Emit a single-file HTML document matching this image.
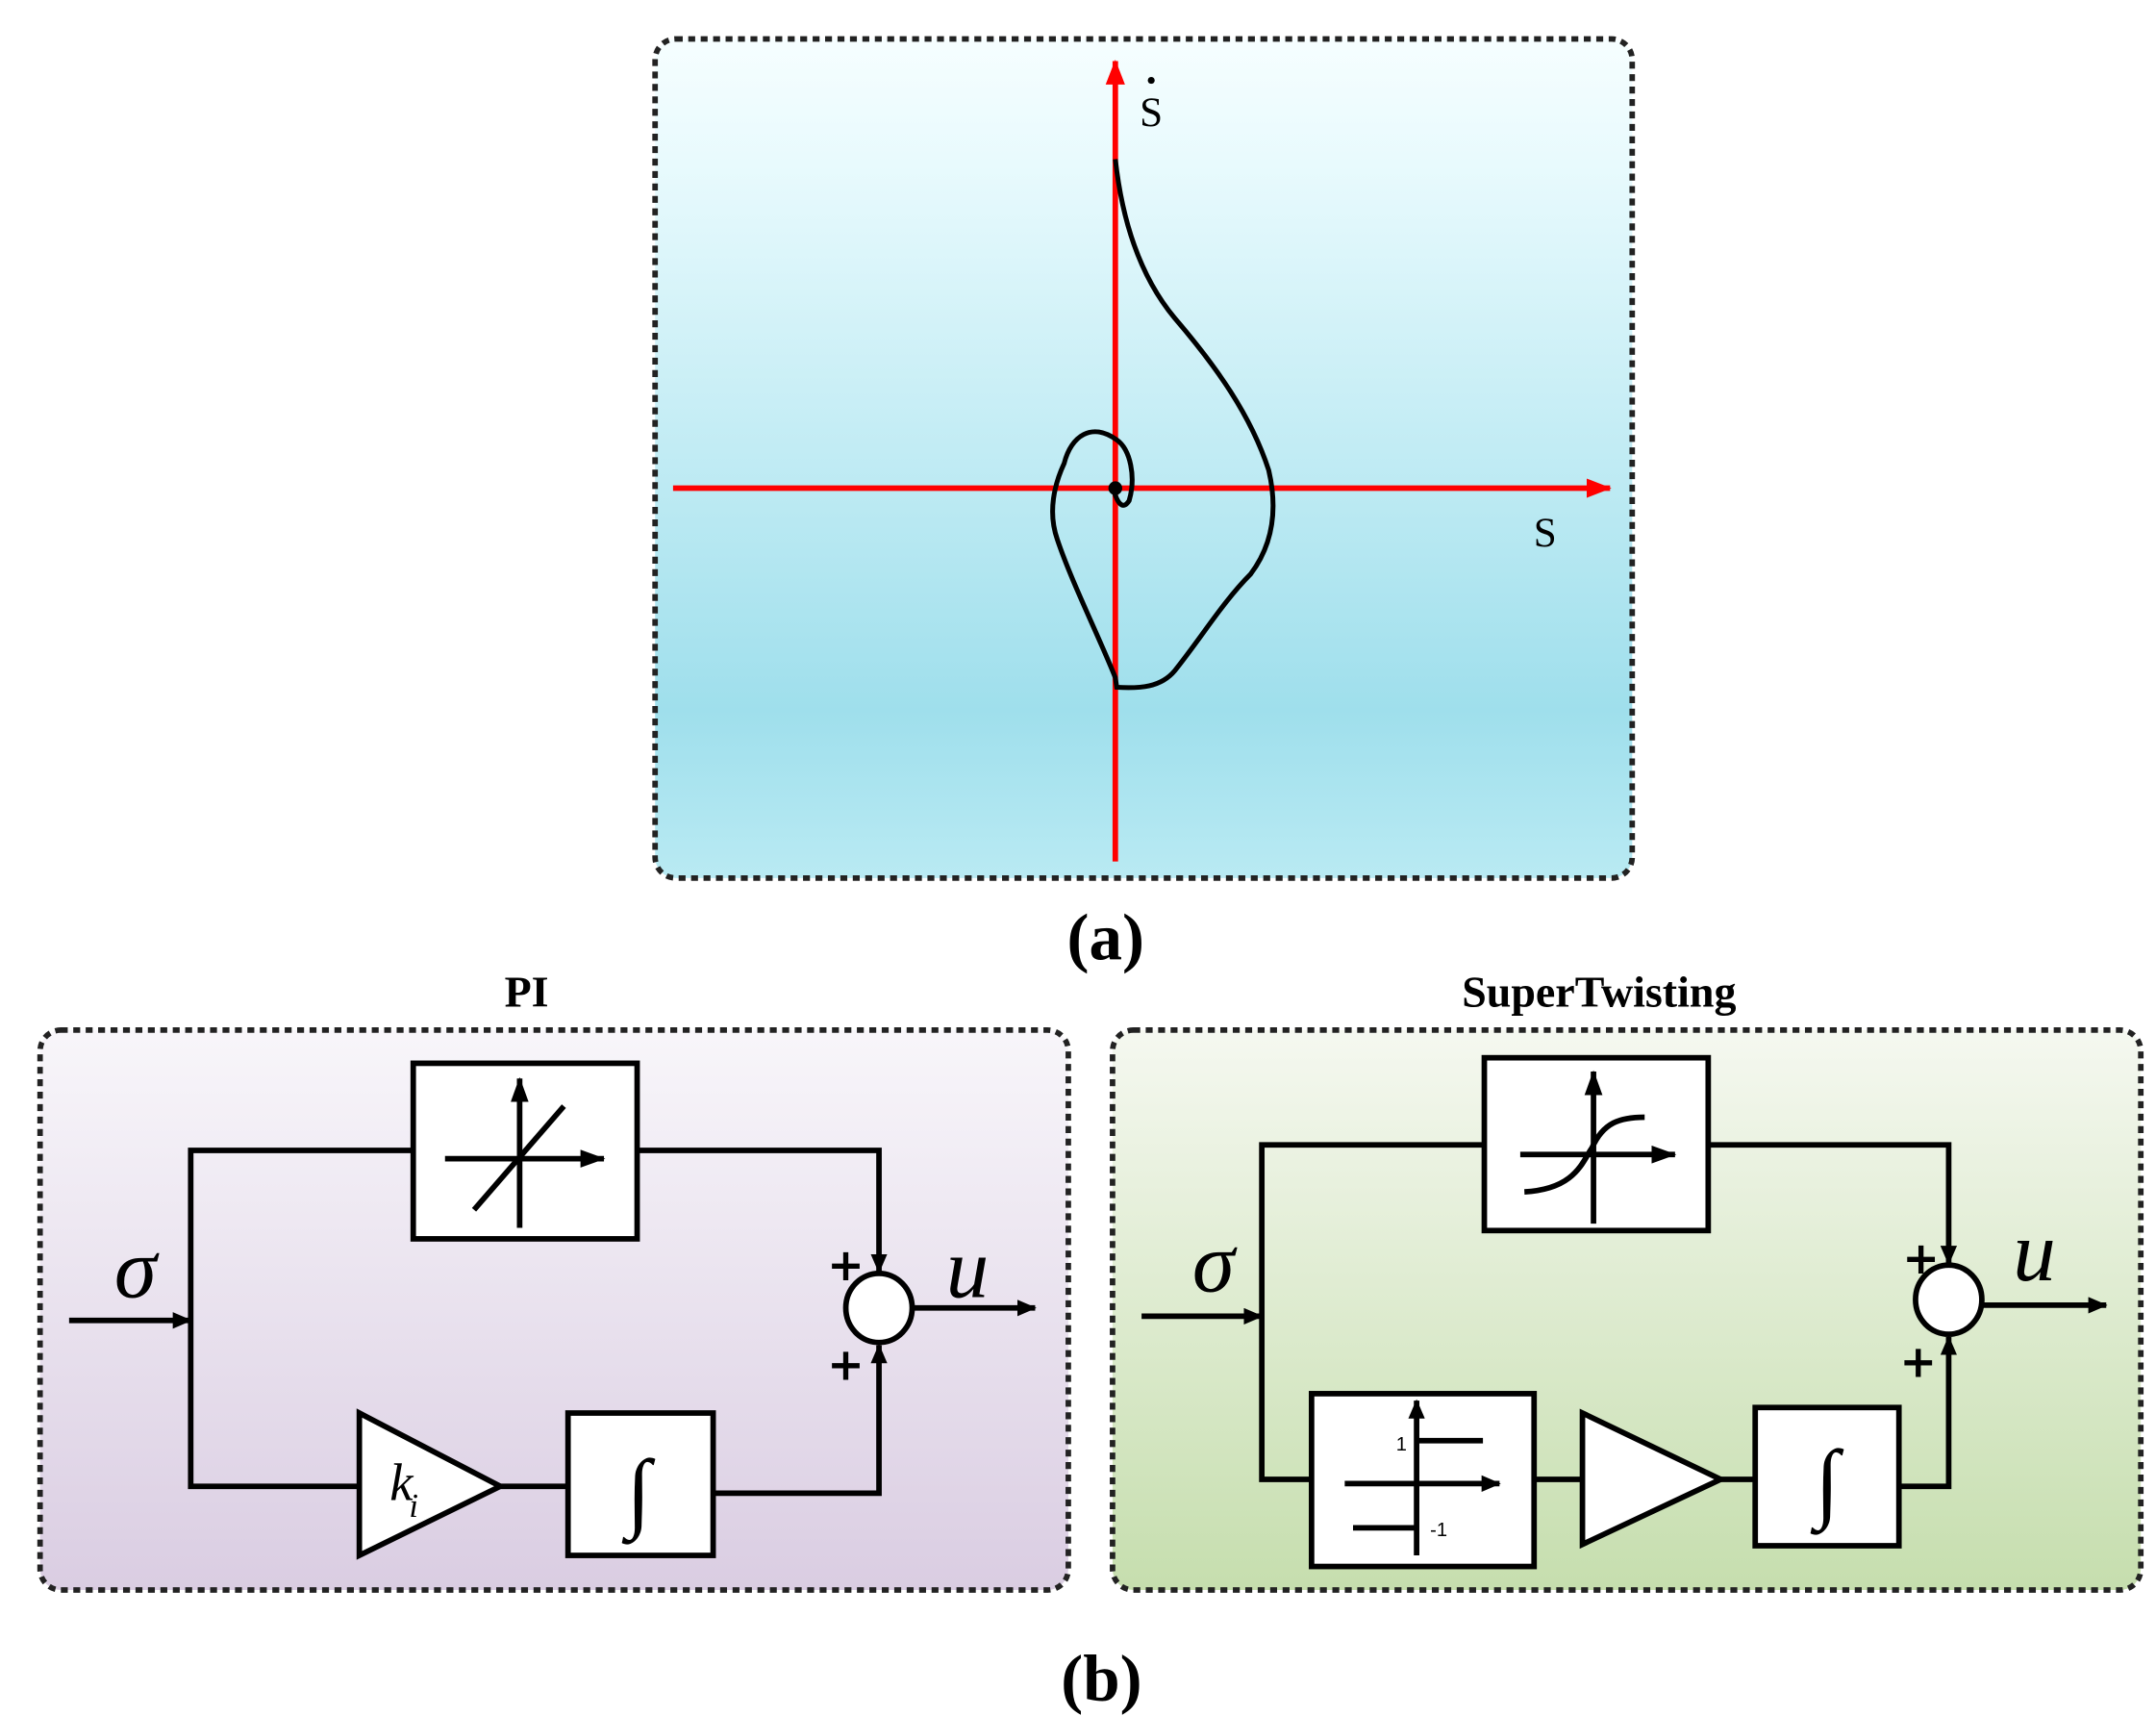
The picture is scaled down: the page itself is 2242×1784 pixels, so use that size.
<!DOCTYPE html>
<html><head><meta charset="utf-8"><style>html,body{margin:0;padding:0;background:#fff}svg{display:block}</style></head>
<body>
<svg width="2242" height="1784" viewBox="0 0 1560 1241" xmlns="http://www.w3.org/2000/svg">
<defs>
<linearGradient id="ga" x1="0" y1="0" x2="0" y2="1">
<stop offset="0" stop-color="#f6feff"/><stop offset="0.15" stop-color="#e8fafd"/><stop offset="0.8" stop-color="#9fdfec"/><stop offset="1" stop-color="#b9eaf3"/></linearGradient>
<linearGradient id="gp" x1="0" y1="0" x2="0" y2="1">
<stop offset="0" stop-color="#f8f6fa"/><stop offset="1" stop-color="#dacde2"/></linearGradient>
<linearGradient id="gs" x1="0" y1="0" x2="0" y2="1">
<stop offset="0" stop-color="#f5f8f0"/><stop offset="1" stop-color="#c6deae"/></linearGradient>
<marker id="ar" markerWidth="14" markerHeight="12" refX="13" refY="6" orient="auto" markerUnits="userSpaceOnUse"><path d="M0,0 L14,6 L0,12 z" fill="#000"/></marker>
<marker id="arb" markerWidth="18" markerHeight="13" refX="17" refY="6.5" orient="auto" markerUnits="userSpaceOnUse"><path d="M0,0 L18,6.5 L0,13 z" fill="#000"/></marker>
<marker id="arr" markerWidth="18" markerHeight="14" refX="17" refY="7" orient="auto" markerUnits="userSpaceOnUse"><path d="M0,0 L18,7 L0,14 z" fill="#f00"/></marker>
</defs>

<!-- (a) -->
<rect x="474" y="28" width="707" height="607" rx="15" fill="url(#ga)" stroke="#222" stroke-width="4" stroke-dasharray="5 4"/>
<line x1="487" y1="353" x2="1165" y2="353" stroke="#f00" stroke-width="4" marker-end="url(#arr)"/>
<line x1="807" y1="623" x2="807" y2="44" stroke="#f00" stroke-width="4" marker-end="url(#arr)"/>
<path d="M807,115 C812,160 825,200 850,230 C880,265 905,300 918,340 C925,370 920,395 905,415 C885,435 870,460 850,485 C840,497 825,498 808,497 L807,490 C795,460 775,420 765,390 C758,370 763,350 770,335 C775,315 790,305 808,318 C818,325 822,345 817,362 C812,370 808,362 806,355" fill="none" stroke="#000" stroke-width="3.5"/>
<circle cx="807" cy="353" r="5" fill="#000"/>
<text x="833" y="91" font-family="Liberation Serif" font-size="30" text-anchor="middle">S</text>
<circle cx="833" cy="58" r="2.5" fill="#000"/>
<text x="1118" y="395" font-family="Liberation Serif" font-size="30" text-anchor="middle">S</text>
<text x="800" y="694" font-family="Liberation Serif" font-size="48" font-weight="bold" text-anchor="middle">(a)</text>

<!-- PI -->
<text x="381" y="728" font-family="Liberation Serif" font-size="32" font-weight="bold" text-anchor="middle">PI</text>
<rect x="29" y="745" width="744" height="405" rx="15" fill="url(#gp)" stroke="#222" stroke-width="4" stroke-dasharray="5 4"/>
<g stroke="#000" stroke-width="4" fill="none">
<rect x="299" y="769" width="162" height="127" fill="#fff"/>
<line x1="376" y1="888" x2="376" y2="780" marker-end="url(#arb)"/>
<line x1="322" y1="838" x2="437" y2="838" marker-end="url(#arb)"/>
<line x1="343" y1="875" x2="408" y2="800"/>
<polyline points="299,832 138,832 138,1075 260,1075"/>
<line x1="50" y1="955" x2="138" y2="955" marker-end="url(#ar)"/>
<polyline points="461,832 636,832 636,920" marker-end="url(#ar)"/>
<ellipse cx="636" cy="946" rx="24" ry="25" fill="#fff"/>
<line x1="660" y1="946" x2="749" y2="946" marker-end="url(#ar)"/>
<polygon points="260,1022 260,1125 362,1075" fill="#fff"/>
<line x1="362" y1="1075" x2="411" y2="1075"/>
<rect x="411" y="1022" width="105" height="103" fill="#fff"/>
<polyline points="516,1080 636,1080 636,973" marker-end="url(#ar)"/>
</g>
<text x="98" y="938" font-family="Liberation Serif" font-size="62" font-style="italic" text-anchor="middle">σ</text>
<text x="700" y="938" font-family="Liberation Serif" font-size="62" font-style="italic" text-anchor="middle">u</text>
<text x="612" y="926" font-family="DejaVu Sans" font-size="32" font-weight="bold" text-anchor="middle">+</text>
<text x="612" y="998" font-family="DejaVu Sans" font-size="32" font-weight="bold" text-anchor="middle">+</text>
<text x="282" y="1085" font-family="Liberation Serif" font-size="38" font-style="italic">k</text>
<text x="296" y="1097" font-family="Liberation Serif" font-size="24" font-style="italic">i</text>
<text x="462" y="1100" font-family="Liberation Serif" font-size="64" text-anchor="middle">∫</text>

<!-- SuperTwisting -->
<text x="1157" y="728" font-family="Liberation Serif" font-size="32" font-weight="bold" text-anchor="middle">SuperTwisting</text>
<rect x="805" y="745" width="744" height="405" rx="15" fill="url(#gs)" stroke="#222" stroke-width="4" stroke-dasharray="5 4"/>
<g stroke="#000" stroke-width="4" fill="none">
<rect x="1074" y="765" width="162" height="125" fill="#fff"/>
<line x1="1153" y1="885" x2="1153" y2="775" marker-end="url(#arb)"/>
<line x1="1100" y1="835" x2="1212" y2="835" marker-end="url(#arb)"/>
<path d="M1103,862 C1140,860 1145,840 1152,830 C1160,812 1172,808 1190,808"/>
<polyline points="1074,828 913,828 913,1070 949,1070"/>
<line x1="826" y1="952" x2="913" y2="952" marker-end="url(#ar)"/>
<polyline points="1236,828 1410,828 1410,914" marker-end="url(#ar)"/>
<ellipse cx="1410" cy="940" rx="24" ry="25" fill="#fff"/>
<line x1="1434" y1="944" x2="1524" y2="944" marker-end="url(#ar)"/>
<rect x="949" y="1008" width="161" height="125" fill="#fff"/>
<line x1="1025" y1="1125" x2="1025" y2="1013" marker-end="url(#ar)"/>
<line x1="973" y1="1073" x2="1085" y2="1073" marker-end="url(#ar)"/>
<line x1="1025" y1="1042" x2="1073" y2="1042"/>
<line x1="979" y1="1105" x2="1025" y2="1105"/>
<line x1="1110" y1="1070" x2="1145" y2="1070"/>
<polygon points="1145,1022 1145,1117 1245,1070" fill="#fff"/>
<line x1="1245" y1="1070" x2="1270" y2="1070"/>
<rect x="1270" y="1018" width="104" height="100" fill="#fff"/>
<polyline points="1374,1075 1410,1075 1410,967" marker-end="url(#ar)"/>
</g>
<text x="1014" y="1049" font-family="Liberation Sans" font-size="14" text-anchor="middle">1</text>
<text x="1041" y="1111" font-family="Liberation Sans" font-size="14" text-anchor="middle">-1</text>
<text x="878" y="934" font-family="Liberation Serif" font-size="62" font-style="italic" text-anchor="middle">σ</text>
<text x="1472" y="926" font-family="Liberation Serif" font-size="62" font-style="italic" text-anchor="middle">u</text>
<text x="1390" y="921" font-family="DejaVu Sans" font-size="32" font-weight="bold" text-anchor="middle">+</text>
<text x="1388" y="996" font-family="DejaVu Sans" font-size="32" font-weight="bold" text-anchor="middle">+</text>
<text x="1322" y="1093" font-family="Liberation Serif" font-size="64" text-anchor="middle">∫</text>

<text x="797" y="1230" font-family="Liberation Serif" font-size="48" font-weight="bold" text-anchor="middle">(b)</text>
</svg>
</body></html>
